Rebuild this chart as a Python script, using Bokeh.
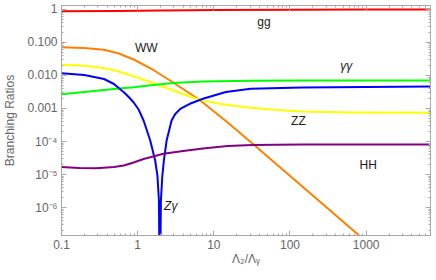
import numpy as np
from bokeh.plotting import figure
from bokeh.models import Range1d, FixedTicker, CustomJSTickFormatter, LogAxis, ColumnDataSource
from bokeh.core.properties import value
from bokeh.embed import file_html
from bokeh.resources import INLINE

# ---------------- data ----------------
gg_x = [0.1, 0.5, 1, 2, 5, 10, 100, 1000, 10000]
gg_y = [0.89, 0.90, 0.91, 0.93, 0.955, 0.97, 0.985, 0.99, 0.99]

ww_x = [0.1, 0.199, 0.362, 0.566, 0.887, 1.61, 2.93, 6.52, 14.4, 30.5, 811, 1000]
ww_y = [0.0721, 0.0681, 0.0601, 0.0464, 0.0305, 0.0147, 0.00614, 0.00181,
        4.18e-4, 9.66e-5, 1.42e-7, 9.3e-8]

zz_x = [0.1, 0.199, 0.362, 0.566, 0.887, 1.39, 2.40, 3.96, 5.89, 9.70, 14.4,
        30.5, 67.8, 143, 639, 10000]
zz_y = [0.0212, 0.0197, 0.0169, 0.0132, 0.00952, 0.00658, 0.00418, 0.00275,
        0.00197, 0.00152, 0.00129, 0.00105, 9.0e-4, 8.1e-4, 7.6e-4, 7.4e-4]

aa_x = [0.1, 0.199, 0.362, 0.566, 0.887, 1.61, 2.93, 7.20, 32.1, 143, 10000]
aa_y = [0.00269, 0.00316, 0.00364, 0.00404, 0.00442, 0.00515, 0.00593,
        0.00658, 0.00695, 0.00705, 0.00705]

za_x = [0.1, 0.199, 0.362, 0.488, 0.658, 0.764, 0.887, 1.030, 1.196, 1.462,
        1.698, 1.818, 1.902, 1.954, 2.02, 2.11, 2.21, 2.40, 2.79, 3.115, 3.62,
        4.84, 7.20, 14.4, 30.5, 143, 10000]
za_y = [0.01174, 0.01036, 0.00783, 0.00552, 0.00312, 0.00223, 0.00152,
        9.3e-4, 4.33e-4, 1.07e-4, 2.66e-5, 9.3e-6, 1.63e-6, 1e-9, 1.63e-6,
        9.3e-6, 2.66e-5, 1.07e-4, 4.33e-4, 6.8e-4, 9.66e-4, 1.39e-3, 1.97e-3,
        3.16e-3, 3.95e-3, 4.33e-3, 4.64e-3]

hh_x = [0.1, 0.171, 0.285, 0.488, 0.658, 0.887, 1.196, 2.18, 3.96, 7.20, 15.2,
        32.1, 143, 10000]
hh_y = [1.69e-5, 1.57e-5, 1.55e-5, 1.69e-5, 1.87e-5, 2.31e-5, 2.95e-5,
        4.24e-5, 5.15e-5, 6.13e-5, 7.31e-5, 7.83e-5, 8.11e-5, 8.11e-5]

x_ticks = [0.1, 1, 10, 100, 1000]
x_tick_labels = ["0.1", "1", "10", "100", "1000"]
y_ticks = [1e-6, 1e-5, 1e-4, 1e-3, 1e-2, 1e-1, 1]
y_tick_labels = ["10\u207b\u2076", "10\u207b\u2075", "10\u207b\u2074",
                 "0.001", "0.010", "0.100", "1"]

# curve labels (text, anchor in data coords)
up_text = ["gg", "WW", "ZZ", "HH"]
up_x = [45.5, 1.30, 129, 1062]
up_y = [0.404, 0.0658, 4.12e-4, 2.01e-5]
it_text = ["\u03b3\u03b3", "Z\u03b3"]
it_x = [549, 2.72]
it_y = [0.01874, 1.13e-6]

# ---------------- figure ----------------
FONT = "Liberation Sans"
FRAME = "#a8a8a8"
TICKTXT = "#666666"

p = figure(width=436, height=280, x_axis_type="log", y_axis_type="log",
           x_range=Range1d(0.1, 7000), y_range=Range1d(1.42e-7, 1.32),
           output_backend="svg", toolbar_location=None,
           min_border_left=57, min_border_right=6, min_border_top=5,
           min_border_bottom=45)
p.grid.visible = False
p.outline_line_color = FRAME
p.background_fill_color = "white"
p.border_fill_color = "white"

x_minor = [k * 10.0 ** e for e in range(-1, 4) for k in range(2, 10)]
y_minor = [k * 10.0 ** e for e in range(-7, 1) for k in range(2, 10)]
xt = FixedTicker(ticks=x_ticks, minor_ticks=x_minor)
yt = FixedTicker(ticks=y_ticks, minor_ticks=y_minor)

code = """
const e = Math.log10(tick);
for (let k = 0; k < exps.length; k++) {
  if (Math.abs(e - exps[k]) < 1e-6) return labels[k];
}
return "";
"""
xf = CustomJSTickFormatter(args=dict(exps=[float(v) for v in np.log10(x_ticks)],
                                     labels=x_tick_labels), code=code)
yf = CustomJSTickFormatter(args=dict(exps=[float(v) for v in np.log10(y_ticks)],
                                     labels=y_tick_labels), code=code)
blank = CustomJSTickFormatter(code='return "";')


def style(ax, ticker, fmt, show):
    ax.ticker = ticker
    ax.formatter = fmt
    ax.axis_line_color = FRAME
    ax.major_tick_line_color = FRAME
    ax.minor_tick_line_color = FRAME
    ax.major_tick_in = 5
    ax.major_tick_out = 0
    ax.minor_tick_in = 2
    ax.minor_tick_out = 0
    if show:
        ax.major_label_text_font = FONT
        ax.major_label_text_font_size = "12px"
        ax.major_label_text_color = TICKTXT
        ax.major_label_standoff = 4
    else:
        ax.major_label_text_font_size = "1px"
        ax.major_label_standoff = 0


xa = p.xaxis[0]
ya = p.yaxis[0]
style(xa, xt, xf, True)
style(ya, yt, yf, True)
xa.axis_label = "\u039b\u2082/\u039b\u1d67"
ya.axis_label = "Branching Ratios"
for ax in (xa, ya):
    ax.axis_label_text_font = FONT
    ax.axis_label_text_font_size = "12px"
    ax.axis_label_text_font_style = "normal"
    ax.axis_label_text_color = TICKTXT
xa.axis_label_standoff = 0
ya.axis_label_standoff = 7

top = LogAxis()
style(top, FixedTicker(ticks=x_ticks, minor_ticks=x_minor), blank, False)
p.add_layout(top, "above")
right = LogAxis()
style(right, FixedTicker(ticks=y_ticks, minor_ticks=y_minor), blank, False)
p.add_layout(right, "right")

series = [
    (gg_x, gg_y, "#ff0000"),
    (ww_x, ww_y, "#ff8000"),
    (zz_x, zz_y, "#ffff00"),
    (aa_x, aa_y, "#00ff00"),
    (za_x, za_y, "#0000ff"),
    (hh_x, hh_y, "#800080"),
]
for xs, ys, c in series:
    p.line(xs, ys, line_color=c, line_width=2, line_join="round")

p.text(x="x", y="y", text="t",
       source=ColumnDataSource(dict(x=up_x, y=up_y, t=up_text)),
       text_font=value(FONT), text_font_size="12px", text_color="#1a1a1a",
       text_align="center", text_baseline="alphabetic")
p.text(x="x", y="y", text="t",
       source=ColumnDataSource(dict(x=it_x, y=it_y, t=it_text)),
       text_font=value(FONT), text_font_size="12px", text_color="#1a1a1a",
       text_font_style="italic",
       text_align="center", text_baseline="alphabetic")

open("out.html", "w").write(file_html(p, INLINE))
